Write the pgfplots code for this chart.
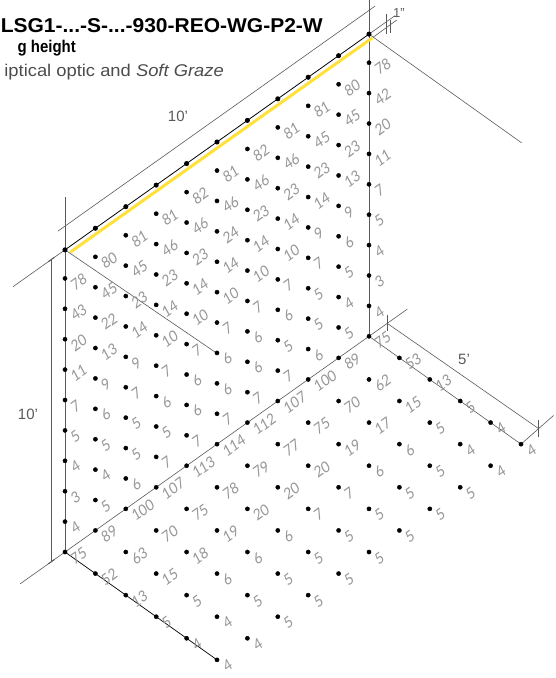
\documentclass[border=0pt]{standalone}
\usepackage{fontspec}
\setmainfont{Liberation Sans}
\newfontfamily\luxfont{Lato}
\usepackage{pgfplots}
\pgfplotsset{compat=1.18}
\definecolor{linegray}{HTML}{5A5A5A}
\definecolor{labelgray}{HTML}{969696}
\definecolor{lampyellow}{HTML}{FFE03C}
\begin{document}
\begin{tikzpicture}
\useasboundingbox (0pt,0pt) rectangle (556pt,-678pt);
\clip (0pt,0pt) rectangle (556pt,-678pt);
\begin{axis}[
    anchor=origin,
    at={(65pt,-552pt)},
    x={(30.4pt,21.57pt)},
    y={(30.4pt,-21.57pt)},
    z={(0pt,30.4pt)},
    xmin=-2, xmax=12,
    ymin=-1, ymax=6,
    zmin=-1, zmax=12,
    hide axis,
    clip=false,
    dim/.style={color=linegray, line width=0.6pt},
    lux/.style={
        only marks, mark=*, mark size=2.1pt, color=black,
        point meta=explicit symbolic,
        nodes near coords,
        nodes near coords align={anchor=west},
        every node near coord/.append style={
            inner sep=0pt, xshift=7pt, yshift=-8.5pt,
            cm={0.95,0.68,-0.6,1.1,(0pt,0pt)},
            text=labelgray, font=\luxfont\fontsize{12}{12}\selectfont},
    },
]
% dimension and room lines
\addplot3[dim] coordinates {(-1.71,0,9.94) (0,0,9.94)};
\addplot3[dim] coordinates {(-1.47,0,0) (0,0,0)};
\addplot3[dim] coordinates {(-0.45,0,0) (-0.45,0,9.94)};
\addplot3[color=linegray, line width=1pt] coordinates {(-0.55,0,9.94) (-0.35,0,9.94)};
\addplot3[color=linegray, line width=1pt] coordinates {(-0.55,0,0) (-0.35,0,0)};
\addplot3[dim] coordinates {(-0.23,0,10.72) (10.2,0,10.72)};
\addplot3[dim] coordinates {(0,0,0) (0,0,11.68)};
\addplot3[dim] coordinates {(10,0,0) (10,0,11.1)};
\addplot3[dim] coordinates {(0,0,0) (11.26,0,0)};
\addplot3[dim] coordinates {(0,0,9.94) (0.1,4.9,9.94)};
\addplot3[dim] coordinates {(10,0,9.94) (9.99,5.03,9.94)};
\addplot3[dim] coordinates {(10,0,0) (10,5,0)};
\addplot3[dim] coordinates {(10.6,0,0) (10.65,4.93,0)};
\addplot3[dim] coordinates {(10,5,0) (11.2,4.87,0)};
\addplot3[dim] coordinates {(10.6,0,-0.26) (10.6,0,0.26)};
\addplot3[dim] coordinates {(10.65,4.93,-0.28) (10.65,4.93,0.28)};
\addplot3[dim] coordinates {(10,0,9.94) (10.86,0,9.94)};
\addplot3[dim] coordinates {(10,0.14,9.94) (10.78,0.13,9.94)};
\addplot3[dim] coordinates {(10.52,0.05,9.61) (10.52,0.05,10.27)};
\addplot3[dim] coordinates {(10.52,0.17,9.73) (10.52,0.17,10.15)};
\addplot3[color=black, line width=0.7pt] coordinates {(0,5,0) (0,0,0)};
% luminaire
\addplot3[color=lampyellow, line width=3pt] coordinates {(0.03,0.14,9.94) (9.97,0.14,9.94)};
\addplot3[color=black, line width=0.8pt, mark=*, mark size=2.1pt] coordinates {
    (0,0,9.94) (1,0,9.94) (2,0,9.94) (3,0,9.94) (4,0,9.94) (5,0,9.94)
    (6,0,9.94) (7,0,9.94) (8,0,9.94) (9,0,9.94) (10,0,9.94)
};
% wall grid
\addplot3[lux] coordinates {
    (0,0,9)[78] (0,0,8)[43] (0,0,7)[20] (0,0,6)[11] (0,0,5)[7] (0,0,4)[5] (0,0,3)[4] (0,0,2)[3] (0,0,1)[4]
    (1,0,9)[80] (1,0,8)[45] (1,0,7)[22] (1,0,6)[13] (1,0,5)[9] (1,0,4)[6] (1,0,3)[5] (1,0,2)[4] (1,0,1)[5]
    (2,0,9)[81] (2,0,8)[45] (2,0,7)[23] (2,0,6)[14] (2,0,5)[9] (2,0,4)[7] (2,0,3)[5] (2,0,2)[5] (2,0,1)[6]
    (3,0,9)[81] (3,0,8)[46] (3,0,7)[23] (3,0,6)[14] (3,0,5)[10] (3,0,4)[7] (3,0,3)[6] (3,0,2)[5] (3,0,1)[7]
    (4,0,9)[82] (4,0,8)[46] (4,0,7)[23] (4,0,6)[14] (4,0,5)[10] (4,0,4)[7] (4,0,3)[6] (4,0,2)[6] (4,0,1)[7]
    (5,0,9)[81] (5,0,8)[46] (5,0,7)[24] (5,0,6)[14] (5,0,5)[10] (5,0,4)[7] (5,0,3)[6] (5,0,2)[6] (5,0,1)[7]
    (6,0,9)[82] (6,0,8)[46] (6,0,7)[23] (6,0,6)[14] (6,0,5)[10] (6,0,4)[7] (6,0,3)[6] (6,0,2)[6] (6,0,1)[7]
    (7,0,9)[81] (7,0,8)[46] (7,0,7)[23] (7,0,6)[14] (7,0,5)[10] (7,0,4)[7] (7,0,3)[6] (7,0,2)[5] (7,0,1)[7]
    (8,0,9)[81] (8,0,8)[45] (8,0,7)[23] (8,0,6)[14] (8,0,5)[9] (8,0,4)[7] (8,0,3)[5] (8,0,2)[5] (8,0,1)[6]
    (9,0,9)[80] (9,0,8)[45] (9,0,7)[23] (9,0,6)[13] (9,0,5)[9] (9,0,4)[6] (9,0,3)[5] (9,0,2)[4] (9,0,1)[5]
    (10,0,9)[78] (10,0,8)[42] (10,0,7)[20] (10,0,6)[11] (10,0,5)[7] (10,0,4)[5] (10,0,3)[4] (10,0,2)[3] (10,0,1)[4]
};
% floor grid
\addplot3[lux] coordinates {
    (0,0,0)[75] (1,0,0)[89] (2,0,0)[100] (3,0,0)[107] (4,0,0)[113] (5,0,0)[114] (6,0,0)[112] (7,0,0)[107] (8,0,0)[100] (9,0,0)[89] (10,0,0)[75]
    (0,1,0)[52] (1,1,0)[63] (2,1,0)[70] (3,1,0)[75] (4,1,0)[78] (5,1,0)[79] (6,1,0)[77] (7,1,0)[75] (8,1,0)[70] (9,1,0)[62] (10,1,0)[53]
    (0,2,0)[13] (1,2,0)[15] (2,2,0)[18] (3,2,0)[19] (4,2,0)[20] (5,2,0)[20] (6,2,0)[20] (7,2,0)[19] (8,2,0)[17] (9,2,0)[15] (10,2,0)[13]
    (0,3,0)[5] (1,3,0)[5] (2,3,0)[6] (3,3,0)[6] (4,3,0)[6] (5,3,0)[7] (6,3,0)[7] (7,3,0)[6] (8,3,0)[6] (9,3,0)[5] (10,3,0)[5]
    (0,4,0)[4] (1,4,0)[4] (2,4,0)[5] (3,4,0)[5] (4,4,0)[5] (5,4,0)[5] (6,4,0)[5] (7,4,0)[5] (8,4,0)[5] (9,4,0)[4] (10,4,0)[4]
    (0,5,0)[4] (1,5,0)[4] (2,5,0)[5] (3,5,0)[5] (4,5,0)[5] (5,5,0)[5] (6,5,0)[5] (7,5,0)[5] (8,5,0)[5] (9,5,0)[4] (10,5,0)[4]
};
\end{axis}
\node[anchor=base east, inner sep=0pt, font=\bfseries\fontsize{20}{20}\selectfont, xscale=1.05] at (323pt,-32pt) {LSG1-...-S-...-930-REO-WG-P2-W};
\node[anchor=base east, inner sep=0pt, font=\bfseries\fontsize{17}{17}\selectfont, xscale=0.88] at (76pt,-52.5pt) {g height};
\node[anchor=base east, inner sep=0pt, text=black!70, font=\fontsize{17}{17}\selectfont, xscale=1.08] at (224pt,-76.5pt) {iptical optic and \textit{Soft Graze}};
\node[text=black!65, font=\fontsize{15}{15}\selectfont] at (178pt,-116pt) {10'};
\node[text=black!65, font=\fontsize{15}{15}\selectfont] at (464pt,-359pt) {5'};
\node[text=black!65, font=\fontsize{15}{15}\selectfont] at (28pt,-414pt) {10'};
\node[text=black!65, font=\fontsize{13}{13}\selectfont] at (399pt,-13pt) {1"};
\end{tikzpicture}
\end{document}
